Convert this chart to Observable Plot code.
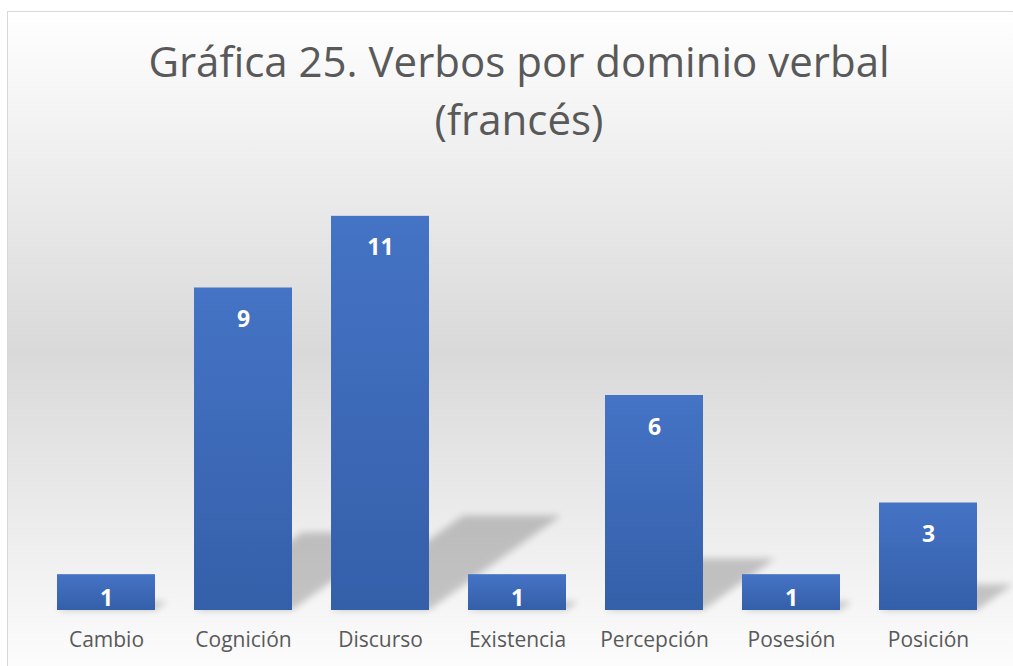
<!DOCTYPE html>
<html>
<head>
<meta charset="utf-8">
<script src="https://cdn.jsdelivr.net/npm/d3@7"></script>
<script src="https://cdn.jsdelivr.net/npm/@observablehq/plot@0.6"></script>
<style>
  html, body { margin: 0; padding: 0; width: 1013px; height: 666px; overflow: hidden; background: #fff; }
  #frame {
    position: absolute; left: 7px; top: 11px; width: 1022px; height: 680px;
    border-left: 1px solid #d9d9d9; border-top: 1px solid #d9d9d9;
    background: linear-gradient(to bottom, #ffffff 0px, #d9d9d9 339px, #ffffff 680px);
  }
  #title {
    position: absolute; left: 0; top: 20px; width: 1022px; text-align: center;
    font-family: "Open Sans", sans-serif; font-size: 42px; line-height: 58px; color: #595959;
  }
  #chart { position: absolute; left: 0; top: 0; }
</style>
</head>
<body>
<div id="frame">
  <div id="title">Gráfica 25. Verbos por dominio verbal<br>(francés)</div>
  <div id="chart"></div>
</div>
<script>
const categories = ["Cambio", "Cognición", "Discurso", "Existencia", "Percepción", "Posesión", "Posición"];
const values = [1, 9, 11, 1, 6, 1, 3];
const data = categories.map((c, i) => ({dominio: c, verbos: values[i]}));

const chart = Plot.plot({
  width: 1022,
  height: 650,
  marginTop: 168,
  marginBottom: 52,
  marginLeft: 29.4,
  marginRight: 32.6,
  style: {fontFamily: "Open Sans, sans-serif", fontSize: "21px", color: "#595959", background: "transparent", overflow: "visible"},
  x: {domain: categories, paddingInner: 0.2856, paddingOuter: 0.1428, label: null, tickSize: 0, tickPadding: 22},
  y: {domain: [0, 12], axis: null},
  marks: [
    Plot.barY(data, {x: "dominio", y: "verbos", fill: "black"}),
    Plot.barY(data, {x: "dominio", y: "verbos", fill: "url(#barGrad)"}),
    Plot.text(data.filter(d => d.verbos > 1), {x: "dominio", y: "verbos", text: d => String(d.verbos), lineAnchor: "top", dy: 22.7, fill: "white", fontWeight: "bold", fontSize: 23}),
    Plot.text(data.filter(d => d.verbos === 1), {x: "dominio", y: "verbos", text: d => String(d.verbos), lineAnchor: "top", dy: 14.7, fill: "white", fontWeight: "bold", fontSize: 23})
  ]
});

const ns = "http://www.w3.org/2000/svg";
const defs = document.createElementNS(ns, "defs");
defs.innerHTML = `
  <linearGradient id="barGrad" x1="0" y1="0" x2="0" y2="1">
    <stop offset="0" stop-color="#4573c5"/>
    <stop offset="1" stop-color="#345fa9"/>
  </linearGradient>
  <filter id="shadowBlur" filterUnits="userSpaceOnUse" x="0" y="0" width="1022" height="650">
    <feGaussianBlur stdDeviation="3.5"/>
  </filter>`;
chart.insertBefore(defs, chart.firstChild);

// perspective shadow: skew the first bar layer toward upper right about the baseline
const y0 = chart.scale("y").apply(0);
const shadow = chart.querySelectorAll('g[aria-label="bar"]')[0];
if (shadow) {
  const outer = document.createElementNS(ns, "g");
  outer.setAttribute("filter", "url(#shadowBlur)");
  outer.setAttribute("opacity", "0.2");
  const inner = document.createElementNS(ns, "g");
  inner.setAttribute("transform", `matrix(1,0,-0.335,0.24,${0.335 * y0},${0.76 * y0})`);
  shadow.parentNode.insertBefore(outer, shadow);
  outer.appendChild(inner);
  inner.appendChild(shadow);
}

document.getElementById("chart").appendChild(chart);
</script>
</body>
</html>
